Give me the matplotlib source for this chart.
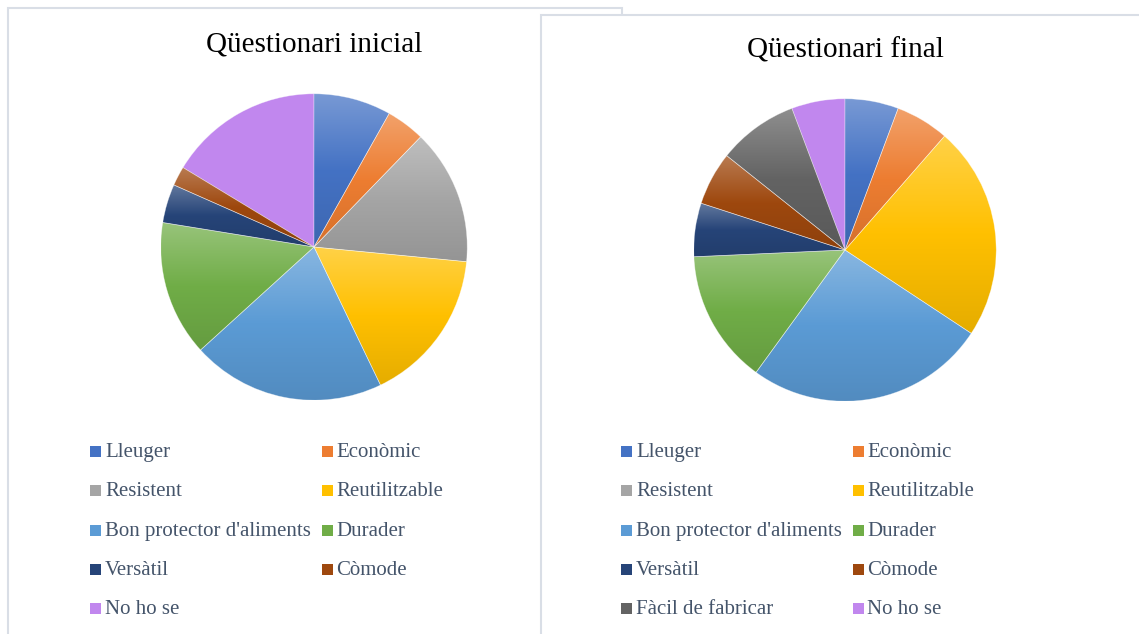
import numpy as np
import matplotlib.pyplot as plt
from matplotlib.patches import Rectangle
from matplotlib.colors import to_rgb

W, H = 1139, 634

# dades
titles = ["Qüestionari inicial", "Qüestionari final"]

labels_ini = ["Lleuger", "Econòmic", "Resistent", "Reutilitzable",
              "Bon protector d'aliments", "Durader", "Versàtil", "Còmode",
              "No ho se"]
counts_ini = [4, 2, 7, 8, 10, 7, 2, 1, 8]

labels_fin = ["Lleuger", "Econòmic", "Resistent", "Reutilitzable",
              "Bon protector d'aliments", "Durader", "Versàtil", "Còmode",
              "Fàcil de fabricar", "No ho se"]
counts_fin = [2, 2, 0, 8, 9, 5, 2, 2, 3, 2]

palette = {
    "Lleuger": "#4472C4",
    "Econòmic": "#ED7D31",
    "Resistent": "#A5A5A5",
    "Reutilitzable": "#FFC000",
    "Bon protector d'aliments": "#5B9BD5",
    "Durader": "#70AD47",
    "Versàtil": "#264478",
    "Còmode": "#9E480E",
    "Fàcil de fabricar": "#636363",
    "No ho se": "#C187EE",
}
flat = ["No ho se"]

SERIF = ["Liberation Serif", "DejaVu Serif"]
TXT = "#44546A"
BORDER = "#D9DEE6"


def px(x, y):
    return x / W, 1 - y / H


def gradient_pie(ax, wedges, labels):
    t = np.linspace(0, 1, 128)[:, None]
    for w, lab in zip(wedges, labels):
        if lab in flat or w.theta1 == w.theta2:
            continue
        base = np.array(to_rgb(palette[lab]))
        top = base + (1 - base) * 0.28
        bot = base * 0.9
        grad = np.where(t < 0.5, top + (base - top) * (t / 0.5),
                        base + (bot - base) * ((t - 0.5) / 0.5))
        ext = w.get_path().get_extents()
        im = ax.imshow(grad[:, None, :], extent=[ext.x0, ext.x1, ext.y0, ext.y1],
                       origin="upper", aspect="auto", interpolation="bilinear",
                       zorder=1)
        im.set_clip_path(w)
        w.set_facecolor("none")
        w.set_zorder(2)


def draw_chart(cx, cy, r, title, ty, labels, counts, lx):
    ax = fig.add_axes([(cx - r) / W, 1 - (cy + r) / H, 2 * r / W, 2 * r / H])
    wedges, _ = ax.pie(counts, colors=[palette[l] for l in labels],
                       startangle=90, counterclock=False, radius=1,
                       wedgeprops=dict(edgecolor=(1, 1, 1, 0.45), linewidth=0.5))
    gradient_pie(ax, wedges, labels)
    ax.set_xlim(-1.005, 1.005)
    ax.set_ylim(-1.005, 1.005)
    ax.set_aspect("auto")
    ax.axis("off")

    fig.text(*px(cx, ty), title, ha="center", va="center", fontsize=21,
             family=SERIF, color="black")

    for i, lab in enumerate(labels):
        row, col = divmod(i, 2)
        x = lx + col * 231.5
        yb = 457 + row * 39.3
        fig.patches.append(Rectangle(px(x, yb), 11 / W, 11 / H,
                                     transform=fig.transFigure,
                                     facecolor=palette[lab], edgecolor="none"))
        fig.text(*px(x + 15, yb), lab, ha="left", va="baseline", fontsize=15,
                 family=SERIF, color=TXT)


fig = plt.figure(figsize=(W / 100, H / 100), dpi=100)
fig.patch.set_facecolor("white")

# marcs dels dos gràfics
fig.patches.append(Rectangle(px(8, 650), 614 / W, 642 / H, transform=fig.transFigure,
                             facecolor="white", edgecolor=BORDER, linewidth=1.5,
                             zorder=-3))
fig.patches.append(Rectangle(px(541, 650), 620 / W, 635 / H, transform=fig.transFigure,
                             facecolor="white", edgecolor=BORDER, linewidth=1.5,
                             zorder=-2))

draw_chart(314, 247, 154, titles[0], 44, labels_ini, counts_ini, 90)
draw_chart(845, 250, 152, titles[1], 50, labels_fin, counts_fin, 621)

fig.savefig("out.png", dpi=100, facecolor="white")
